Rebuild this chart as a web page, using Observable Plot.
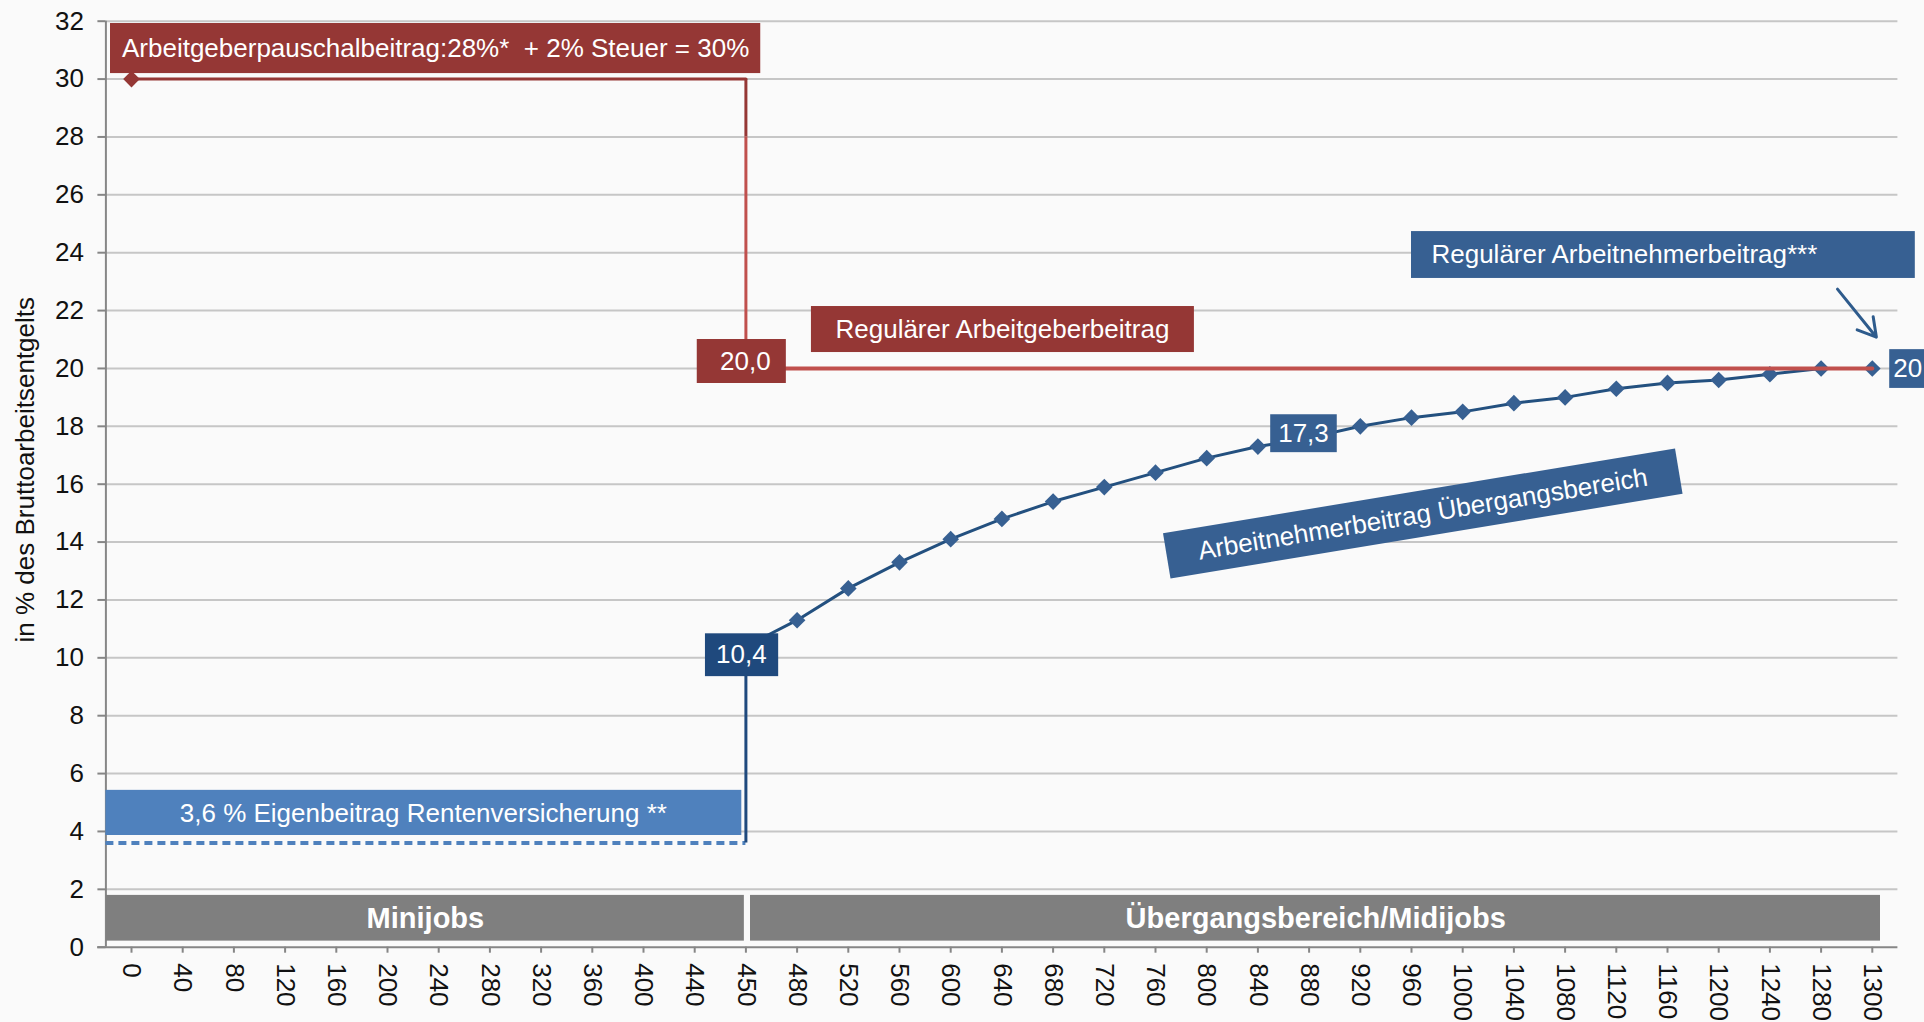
<!DOCTYPE html>
<html>
<head>
<meta charset="utf-8">
<script src="https://cdn.jsdelivr.net/npm/d3@7"></script>
<script src="https://cdn.jsdelivr.net/npm/@observablehq/plot@0.6"></script>
<style>
  html, body { margin: 0; padding: 0; background: #fafafa; overflow: hidden; }
  #chart svg { overflow: hidden; display: block; }
</style>
</head>
<body>
<div id="chart"></div>
<script>
// ---------- data ----------
const categories = ["0","40","80","120","160","200","240","280","320","360","400","440","450",
  "480","520","560","600","640","680","720","760","800","840","880","920","960","1000",
  "1040","1080","1120","1160","1200","1240","1280","1300"];
const miniCategories = categories.slice(0, 13);   // 0 … 450
const midiCategories = categories.slice(12);      // 450 … 1300
const employerFlatRate   = [30,30,30,30,30,30,30,30,30,30,30,30,30];
const employeeOwnPension = [3.6,3.6,3.6,3.6,3.6,3.6,3.6,3.6,3.6,3.6,3.6,3.6,3.6];
const employerRegular    = [20,20,20,20,20,20,20,20,20,20,20,20,20,20,20,20,20,20,20,20,20,20,20];
const employeeMidi       = [10.4,11.3,12.4,13.3,14.1,14.8,15.4,15.9,16.4,16.9,17.3,17.6,18.0,
  18.3,18.5,18.8,19.0,19.3,19.5,19.6,19.8,20.0,20.0];
const yTicks = [0,2,4,6,8,10,12,14,16,18,20,22,24,26,28,30,32];
const yTitle = "in % des Bruttoarbeitsentgelts";

// ---------- tables ----------
const mini = miniCategories.map((c, k) => ({i: categories.indexOf(c), flat: employerFlatRate[k], own: employeeOwnPension[k]}));
const midi = midiCategories.map((c, k) => ({i: categories.indexOf(c), an: employeeMidi[k], ag: employerRegular[k]}));
const i450 = categories.indexOf("450");

// annotation boxes (data coordinates: category index, percent)
const boxes = [
  {x1: -0.41, x2: 12.29, y1: 30.19, y2: 31.92, fill: "#953735"},
  {x1: 11.05, x2: 12.79, y1: 19.48, y2: 21.0,  fill: "#953735"},
  {x1: 13.28, x2: 20.76, y1: 20.55, y2: 22.14, fill: "#953735"},
  {x1: 11.21, x2: 12.64, y1: 9.35,  y2: 10.83, fill: "#1F497D"},
  {x1: 22.25, x2: 23.55, y1: 17.09, y2: 18.4,  fill: "#376092"},
  {x1: 34.34, x2: 36.5,  y1: 19.31, y2: 20.65, fill: "#376092"},
  {x1: 25.0,  x2: 34.84, y1: 23.11, y2: 24.73, fill: "#376092"},
  {x1: -0.5,  x2: 11.92, y1: 3.86,  y2: 5.42,  fill: "#4F81BD"},
  {x1: -0.49, x2: 11.97, y1: 0.21,  y2: 1.79,  fill: "#7F7F7F"},
  {x1: 12.09, x2: 34.16, y1: 0.21,  y2: 1.79,  fill: "#7F7F7F"}
];
const labels = [
  {x: 5.94,  y: 31.05, text: "Arbeitgeberpauschalbeitrag:28%*  + 2% Steuer = 30%", anchor: "middle"},
  {x: 11.99, y: 20.24, text: "20,0", anchor: "middle"},
  {x: 17.01, y: 21.34, text: "Regulärer Arbeitgeberbeitrag", anchor: "middle"},
  {x: 11.91, y: 10.11, text: "10,4", anchor: "middle"},
  {x: 22.89, y: 17.75, text: "17,3", anchor: "middle"},
  {x: 34.41, y: 20.0,  text: "20", anchor: "start"},
  {x: 25.39, y: 23.93, text: "Regulärer Arbeitnehmerbeitrag***", anchor: "start"},
  {x: 5.70,  y: 4.62,  text: "3,6 % Eigenbeitrag Rentenversicherung **", anchor: "middle"}
];
const bandLabels = [
  {x: 5.74,  y: 0.99, text: "Minijobs"},
  {x: 23.13, y: 0.99, text: "Übergangsbereich/Midijobs"}
];
const rotatedLabel = {x: 25.23, y: 14.97, text: "Arbeitnehmerbeitrag Übergangsbereich", angle: -9.4};
const titlePos = {x: -2.07, y: 16.5};

const font = "Arial, 'Liberation Sans', sans-serif";

const chart = Plot.plot({
  width: 1924,
  height: 1022,
  marginLeft: 105.4,
  marginRight: 26.6,
  marginTop: 20.7,
  marginBottom: 75.3,
  style: {background: "#fafafa", fontFamily: font, fontSize: "26px", color: "#111"},
  x: {type: "linear", domain: [-0.5, categories.length - 0.5], axis: null},
  y: {domain: [0, 32], axis: null},
  marks: [
    Plot.gridY(yTicks.filter(v => v > 0), {stroke: "#c6c6c6", strokeOpacity: 1, strokeWidth: 2}),
    Plot.ruleX([-0.5], {stroke: "#868686", strokeWidth: 2}),
    Plot.ruleY([0], {x1: -0.66, x2: categories.length - 0.5, stroke: "#868686", strokeWidth: 2}),
    Plot.axisY({ticks: yTicks, tickSize: 8, tickPadding: 14, stroke: "#868686", strokeWidth: 2,
      fill: "#111", fontSize: 26, label: null}),
    Plot.axisX({ticks: d3.range(categories.length), tickFormat: i => categories[i], tickRotate: 90,
      tickSize: 6, tickPadding: 10, stroke: "#868686", strokeWidth: 2, fill: "#111", fontSize: 26, label: null}),
    Plot.text([titlePos], {x: "x", y: "y", text: () => yTitle, rotate: -90, fontSize: 26, fill: "#111", textAnchor: "middle"}),

    // Minijob own contribution (dashed) and jump to Übergangsbereich
    Plot.ruleY([employeeOwnPension[0]], {x1: -0.5, x2: i450, stroke: "#4F81BD", strokeWidth: 4, strokeDasharray: "8,5"}),
    Plot.ruleX([i450], {y1: employeeOwnPension[employeeOwnPension.length - 1], y2: employeeMidi[0], stroke: "#1F497D", strokeWidth: 3}),
    // employee contribution in Übergangsbereich
    Plot.line(midi, {x: "i", y: "an", stroke: "#23507F", strokeWidth: 3}),
    Plot.dot(midi.slice(1), {x: "i", y: "an", symbol: "diamond2", r: 7.5, fill: "#376092", stroke: "none"}),

    // employer flat rate and regular employer contribution
    Plot.line(mini, {x: "i", y: "flat", stroke: "#953735", strokeWidth: 3}),
    Plot.dot(mini.slice(0, 1), {x: "i", y: "flat", symbol: "diamond2", r: 7.5, fill: "#953735", stroke: "none"}),
    Plot.ruleX([i450], {y1: employerFlatRate[employerFlatRate.length - 1], y2: 28, stroke: "#953735", strokeWidth: 3}),
    Plot.ruleX([i450], {y1: 28, y2: employerRegular[0], stroke: "#C0504D", strokeWidth: 3}),
    Plot.line(midi, {x: "i", y: "ag", stroke: "#C0504D", strokeWidth: 4}),

    // arrow to regular employee contribution
    Plot.arrow([{x1: 33.32, y1: 22.74, x2: 34.08, y2: 21.08}],
      {x1: "x1", y1: "y1", x2: "x2", y2: "y2", stroke: "#2E5B8C", strokeWidth: 3, headLength: 18, bend: false}),

    // annotation boxes
    Plot.rect(boxes, {x1: "x1", x2: "x2", y1: "y1", y2: "y2", fill: "fill"}),
    Plot.text(labels.filter(d => d.anchor === "middle"), {x: "x", y: "y", text: "text", fill: "white", fontSize: 26, textAnchor: "middle"}),
    Plot.text(labels.filter(d => d.anchor === "start"), {x: "x", y: "y", text: "text", fill: "white", fontSize: 26, textAnchor: "start"}),
    Plot.text(bandLabels, {x: "x", y: "y", text: "text", fill: "white", fontSize: 29, fontWeight: "bold"}),

    // rotated box
    (index, scales) => {
      const g = d3.create("svg:g")
        .attr("transform", `translate(${scales.x(rotatedLabel.x)},${scales.y(rotatedLabel.y)}) rotate(${rotatedLabel.angle})`);
      g.append("rect").attr("x", -259.5).attr("y", -23).attr("width", 519).attr("height", 46).attr("fill", "#376092");
      g.append("text").attr("text-anchor", "middle").attr("dy", "0.35em").attr("fill", "white")
        .attr("font-size", 26).attr("font-family", font).text(rotatedLabel.text);
      return g.node();
    }
  ]
});
document.getElementById("chart").appendChild(chart);
</script>
</body>
</html>
